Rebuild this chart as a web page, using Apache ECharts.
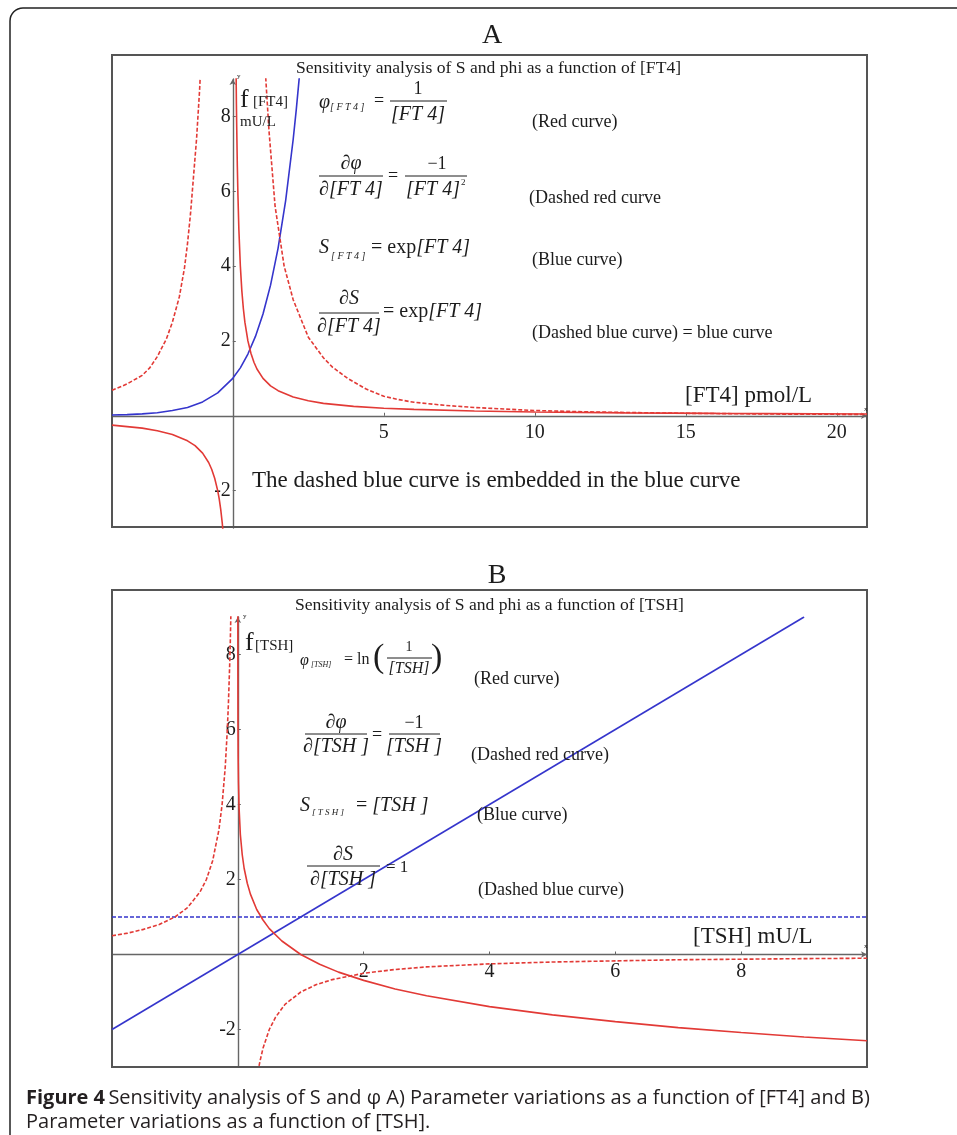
<!DOCTYPE html>
<html>
<head>
<meta charset="utf-8">
<script src="https://cdn.jsdelivr.net/npm/echarts@6/dist/echarts.min.js"></script>
<style>
  html, body { margin: 0; padding: 0; background: #fff; }
  #fig { width: 957px; height: 1135px; }
</style>
</head>
<body>
<div id="fig"></div>
<script>
  // ---- data ----
  // panel A, x = [FT4]
  var xTicksA = [5, 10, 15, 20];
  var yTicksA = [-2, 2, 4, 6, 8];
  var redA_right = [[0.105,9.5],[0.11,9.1],[0.12,8.3],[0.13,7.7],[0.15,6.67],[0.17,5.9],[0.2,5],[0.25,4],[0.3,3.33],[0.35,2.86],[0.4,2.5],[0.5,2],[0.6,1.67],[0.7,1.43],[0.8,1.25],[1,1],[1.25,0.8],[1.5,0.67],[2,0.5],[2.5,0.4],[3,0.33],[4,0.25],[5,0.2],[6,0.17],[8,0.125],[10,0.1],[13,0.077],[16,0.063],[21,0.048]];
  var redA_left = [[-4,-0.25],[-3.5,-0.29],[-3,-0.33],[-2.5,-0.4],[-2,-0.5],[-1.5,-0.67],[-1.25,-0.8],[-1,-1],[-0.8,-1.25],[-0.7,-1.43],[-0.6,-1.67],[-0.5,-2],[-0.45,-2.22],[-0.4,-2.5],[-0.35,-2.86],[-0.32,-3.13]];
  var redDashA_left = [[-4,0.68],[-3.5,0.85],[-3,1.08],[-2.75,1.28],[-2.5,1.58],[-2.2,2.05],[-2,2.5],[-1.77,3.18],[-1.6,3.95],[-1.5,4.6],[-1.4,5.4],[-1.3,6.4],[-1.2,7.4],[-1.1,8.7],[-1.07,9.2]];
  var redDashA_right = [[1.08,9.2],[1.1,8.9],[1.2,7.6],[1.3,6.6],[1.4,5.6],[1.55,4.8],[1.7,4.0],[2,3.1],[2.2,2.7],[2.5,2.1],[3,1.55],[3.3,1.3],[3.8,1.0],[4.4,0.72],[5,0.52],[5.5,0.43],[6,0.36],[7,0.28],[8,0.22],[10,0.14],[12,0.1],[15,0.065],[18,0.045],[21,0.035]];
  var blueA = [[-4,0.02],[-3.5,0.03],[-3,0.05],[-2.5,0.08],[-2,0.14],[-1.5,0.22],[-1,0.37],[-0.5,0.61],[0,1],[0.25,1.28],[0.5,1.65],[0.75,2.12],[1,2.72],[1.25,3.49],[1.5,4.48],[1.75,5.75],[2,7.39],[2.1,8.17],[2.2,9.03],[2.25,9.5]];

  // panel B, x = [TSH]
  var xTicksB = [2, 4, 6, 8];
  var yTicksB = [-2, 2, 4, 6, 8];
  var redB = [[0.0001,9.2],[0.0005,7.6],[0.002,6.2],[0.005,5.3],[0.01,4.6],[0.02,3.9],[0.04,3.2],[0.07,2.66],[0.1,2.3],[0.15,1.9],[0.2,1.61],[0.3,1.2],[0.4,0.92],[0.5,0.69],[0.7,0.36],[1,0],[1.3,-0.26],[1.6,-0.47],[2,-0.69],[2.5,-0.92],[3,-1.1],[4,-1.39],[5,-1.61],[6,-1.79],[7,-1.95],[8,-2.08],[9,-2.2],[10,-2.3]];
  var redDashB_left = [[-2,0.5],[-1.75,0.57],[-1.5,0.67],[-1.25,0.8],[-1,1],[-0.8,1.25],[-0.6,1.67],[-0.5,2],[-0.4,2.5],[-0.3,3.33],[-0.25,4],[-0.2,5],[-0.17,5.9],[-0.15,6.67],[-0.13,7.7],[-0.12,8.33],[-0.11,9.1],[-0.105,9.5]];
  var redDashB_right = [[0.32,-3.13],[0.35,-2.86],[0.4,-2.5],[0.5,-2],[0.6,-1.67],[0.75,-1.33],[1,-1],[1.25,-0.8],[1.5,-0.67],[2,-0.5],[2.5,-0.4],[3,-0.33],[4,-0.25],[5,-0.2],[6,-0.17],[7,-0.14],[8,-0.125],[9,-0.11],[10,-0.1]];
  var blueB = [[-2,-2],[9,9]];
  var blueDashB = [[-2,1],[10,1]];

  var RED = '#e23a36', BLUE = '#3535cc', TXT = '#1c1c1c';
  var SERIF = '"Liberation Serif", "DejaVu Serif", serif';
  var SANS = '"Open Sans", sans-serif';

  var myChart = echarts.init(document.getElementById('fig'));

  function axisX(min, max, ticks, gi) {
    return {
      type: 'value', gridIndex: gi, min: min, max: max,
      splitLine: { show: false },
      axisLine: { onZero: false, symbol: ['none', 'arrow'], symbolSize: [5, 6], lineStyle: { color: '#666', width: 1.4 } },
      axisTick: { customValues: ticks, length: 3, inside: true, lineStyle: { color: '#666' } },
      axisLabel: { customValues: ticks, margin: 7, color: TXT, fontFamily: SERIF, fontSize: 20 }
    };
  }
  function axisY(min, max, ticks, gi) {
    return {
      type: 'value', gridIndex: gi, min: min, max: max,
      splitLine: { show: false },
      axisLine: { onZero: false, symbol: ['none', 'arrow'], symbolSize: [5, 6], lineStyle: { color: '#666', width: 1.4 } },
      axisTick: { customValues: ticks, length: 3, inside: true, lineStyle: { color: '#666' } },
      axisLabel: { customValues: ticks, margin: 2, color: TXT, fontFamily: SERIF, fontSize: 20 }
    };
  }
  function curve(data, gi, color, dashed) {
    return {
      type: 'line', xAxisIndex: gi, yAxisIndex: gi, data: data,
      showSymbol: false, symbol: 'none', silent: true, clip: true, z: 3,
      lineStyle: { color: color, width: 1.6, type: dashed ? [4, 2] : 'solid' }
    };
  }

  // text helpers for the annotations
  function t(x, y, s, size, italic, align) {
    return { type: 'text', z: 10, style: {
      text: s, x: x, y: y, fill: TXT,
      font: (italic ? 'italic ' : '') + size + 'px ' + SERIF,
      textAlign: align || 'left', textVerticalAlign: 'middle' } };
  }
  function rt(x, y, s, rich, align) {
    return { type: 'text', z: 10, style: {
      text: s, x: x, y: y, fill: TXT, rich: rich,
      textAlign: align || 'left', textVerticalAlign: 'middle' } };
  }
  function bar(x1, x2, y) {
    return { type: 'line', z: 10, shape: { x1: x1, y1: y, x2: x2, y2: y }, style: { stroke: TXT, lineWidth: 1 } };
  }
  var richMath = {
    u: { fontFamily: SERIF, fontSize: 20, fill: TXT },
    i: { fontFamily: SERIF, fontSize: 20, fontStyle: 'italic', fill: TXT }
  };

  var graphics = [
    // outer rounded box
    { type: 'rect', z: 0, shape: { x: 10, y: 8, width: 990, height: 1200, r: 13 }, style: { fill: 'none', stroke: '#222', lineWidth: 1.5 } },
    // panel frames
    { type: 'rect', z: 1, shape: { x: 112, y: 55, width: 755, height: 472 }, style: { fill: 'none', stroke: '#555', lineWidth: 2 } },
    { type: 'rect', z: 1, shape: { x: 112, y: 590, width: 755, height: 477 }, style: { fill: 'none', stroke: '#555', lineWidth: 2 } },
    t(492, 36, 'A', 28, false, 'center'),
    t(497, 576, 'B', 28, false, 'center'),

    // ---- panel A texts ----
    t(296, 68, 'Sensitivity analysis of S and phi as a function of [FT4]', 17.6),
    t(240, 100, 'f', 26),
    t(253, 102, '[FT4]', 15),
    t(240, 122, 'mU/L', 15),
    t(237, 76, 'y', 7), t(864, 409, 'x', 7),
    // phi = 1/[FT4]
    t(319, 103, 'φ', 20, true),
    t(330, 107, '[ F T 4 ]', 10, true),
    t(374, 101, '=', 18),
    t(418, 89, '1', 18, false, 'center'),
    bar(390, 447, 101),
    t(418, 115, '[FT 4]', 20, true, 'center'),
    t(532, 122, '(Red curve)', 18),
    // dphi/dFT4 = -1/[FT4]^2
    t(351, 164, '∂φ', 20, true, 'center'),
    bar(319, 383, 176),
    t(351, 190, '∂[FT 4]', 20, true, 'center'),
    t(393, 176, '=', 18, false, 'center'),
    t(437, 164, '−1', 18, false, 'center'),
    bar(405, 467, 176),
    t(433, 190, '[FT 4]', 20, true, 'center'),
    t(461, 183, '2', 9),
    t(529, 198, '(Dashed red curve', 18),
    // S = exp[FT4]
    t(319, 248, 'S', 20, true),
    t(331, 256, '[ F T 4 ]', 10, true),
    rt(371, 248, '{u|= exp}{i|[FT 4]}', richMath),
    t(532, 260, '(Blue curve)', 18),
    // dS/dFT4 = exp[FT4]
    t(349, 299, '∂S', 20, true, 'center'),
    bar(319, 379, 313),
    t(349, 327, '∂[FT 4]', 20, true, 'center'),
    rt(383, 312, '{u|= exp}{i|[FT 4]}', richMath),
    t(532, 333, '(Dashed blue curve) = blue curve', 18),
    t(685, 396, '[FT4] pmol/L', 23),
    t(252, 481, 'The dashed blue curve is embedded in the blue curve', 23),

    // ---- panel B texts ----
    t(295, 605, 'Sensitivity analysis of S and phi as a function of [TSH]', 17.6),
    t(245, 643, 'f', 26),
    t(255, 646, '[TSH]', 15),
    t(243, 616, 'y', 7), t(864, 946, 'x', 7),
    // phi = ln(1/[TSH])
    t(300, 661, 'φ', 16, true),
    t(311, 665, '[TSH]', 8, true),
    t(344, 660, '= ln', 16),
    t(373, 658, '(', 34),
    t(409, 647, '1', 14, false, 'center'),
    bar(387, 432, 658),
    t(409, 669, '[TSH]', 16, true, 'center'),
    t(431, 658, ')', 34),
    t(474, 679, '(Red curve)', 18),
    // dphi/dTSH = -1/[TSH]
    t(336, 723, '∂φ', 20, true, 'center'),
    bar(305, 367, 734),
    t(336, 747, '∂[TSH ]', 20, true, 'center'),
    t(377, 735, '=', 18, false, 'center'),
    t(414, 723, '−1', 18, false, 'center'),
    bar(389, 440, 734),
    t(414, 747, '[TSH ]', 20, true, 'center'),
    t(471, 755, '(Dashed red curve)', 18),
    // S = [TSH]
    t(300, 806, 'S', 20, true),
    t(312, 813, '[ T S H ]', 9, true),
    rt(356, 806, '{u|= }{i|[TSH ]}', richMath),
    t(477, 815, '(Blue curve)', 18),
    // dS/dTSH = 1
    t(343, 855, '∂S', 20, true, 'center'),
    bar(307, 380, 866),
    t(343, 880, '∂[TSH ]', 20, true, 'center'),
    t(386, 868, '= 1', 17),
    t(478, 890, '(Dashed blue curve)', 18),
    t(693, 937, '[TSH] mU/L', 23),

    // ---- caption ----
    rt(26, 1098, '{b|Figure 4} {r|Sensitivity analysis of S and φ A) Parameter variations as a function of [FT4] and B)}', {
      b: { fontFamily: SANS, fontWeight: 'bold', fontSize: 20, fill: '#231f20' },
      r: { fontFamily: SANS, fontSize: 20, fill: '#231f20' }
    }),
    { type: 'text', z: 10, style: { text: 'Parameter variations as a function of [TSH].', x: 26, y: 1122, fill: '#231f20',
      font: '20px ' + SANS, textAlign: 'left', textVerticalAlign: 'middle' } }
  ];

  var grids = [
    { left: 112, top: 79, width: 755, height: 449 },
    { left: 112, top: 617, width: 755, height: 450 }
  ];

  var option = {
    animation: false,
    backgroundColor: '#fff',
    grid: grids,
    xAxis: [axisX(-4, 21, xTicksA, 0), axisX(-2, 10, xTicksB, 1)],
    yAxis: [axisY(-3, 9, yTicksA, 0), axisY(-3, 9, yTicksB, 1)],
    series: [
      curve(blueA, 0, BLUE, false),
      curve(redDashA_left, 0, RED, true),
      curve(redDashA_right, 0, RED, true),
      curve(redA_left, 0, RED, false),
      curve(redA_right, 0, RED, false),
      curve(blueDashB, 1, BLUE, true),
      curve(blueB, 1, BLUE, false),
      curve(redDashB_left, 1, RED, true),
      curve(redDashB_right, 1, RED, true),
      curve(redB, 1, RED, false)
    ],
    graphic: graphics
  };
  myChart.setOption(option);

  // move the axes (with their labels) onto the origin, Maple style
  var xOff = [], yOff = [];
  grids.forEach(function (g, i) {
    var p0 = myChart.convertToPixel({ gridIndex: i }, [0, 0]);
    xOff.push({ offset: -(g.top + g.height - p0[1]) });
    yOff.push({ offset: -(p0[0] - g.left) });
  });
  myChart.setOption({ xAxis: xOff, yAxis: yOff });
</script>
</body>
</html>
